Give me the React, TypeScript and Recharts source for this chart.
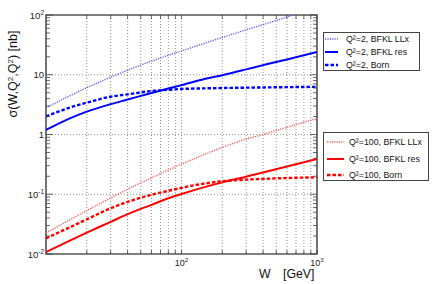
import { CartesianGrid, Line, LineChart, ReferenceArea, ReferenceLine, XAxis, YAxis } from 'recharts';

// W in GeV
const wValues = [10, 15, 20, 30, 40, 60, 80, 100, 150, 200, 300, 400, 600, 1000];

// sigma in nb
const q2LLx = [2.8, 4.45, 6.05, 9.1, 11.9, 16.9, 21.2, 25, 34, 42, 56.6, 69, 93, 136];
const q2Res = [1.19, 1.86, 2.41, 3.22, 3.85, 4.96, 5.9, 6.7, 8.55, 9.84, 12.3, 14.5, 18.0, 24.0];
const q2Born = [2.0, 2.82, 3.41, 4.29, 4.7, 5.34, 5.6, 5.78, 5.92, 6.0, 6.08, 6.13, 6.2, 6.28];
const q100LLx = [0.0225, 0.0372, 0.0532, 0.0867, 0.1213, 0.189, 0.255, 0.319, 0.47, 0.607, 0.839, 1.0, 1.32, 1.86];
const q100Res = [0.0108, 0.0168, 0.0228, 0.0345, 0.0465, 0.0665, 0.0855, 0.101, 0.133, 0.158, 0.197, 0.231, 0.292, 0.39];
const q100Born = [0.0183, 0.028, 0.038, 0.0582, 0.0745, 0.098, 0.114, 0.128, 0.152, 0.165, 0.176, 0.181, 0.187, 0.192];

const xTicks = [20, 30, 40, 50, 60, 70, 80, 90, 100, 200, 300, 400, 500, 600, 700, 800, 900, 1000];
const yTicks = [0.01, 0.1, 1, 10, 100].flatMap(d => (d === 100 ? [100] : [1, 2, 3, 4, 5, 6, 7, 8, 9].map(k => +(k * d).toPrecision(2))));
const xLabels: Record<number, string> = { 100: '2', 1000: '3' };
const yLabels: Record<number, [string, string]> = { 0.01: ['10', '-2'], 0.1: ['10', '-1'], 1: ['1', ''], 10: ['10', ''], 100: ['10', '2'] };
const gridY = [0.1, 1, 10];

const data = wValues.map((w, i) => ({
    w,
    q2LLx: q2LLx[i],
    q2Res: q2Res[i],
    q2Born: q2Born[i],
    q100LLx: q100LLx[i],
    q100Res: q100Res[i],
    q100Born: q100Born[i],
}));

const PLOT_LEFT = 46;
const PLOT_RIGHT = 317;
const PLOT_TOP = 15;
const PLOT_BOTTOM = 254;
const FONT = '"Liberation Sans", Arial, sans-serif';

const series = [
    { key: 'q2LLx', color: '#5b5bff', width: 1.4, dash: '1.2 1.2', label: 'Q²=2, BFKL LLx' },
    { key: 'q2Res', color: '#0000ff', width: 2, dash: undefined, label: 'Q²=2, BFKL res' },
    { key: 'q2Born', color: '#0000ff', width: 2.4, dash: '3.5 2', label: 'Q²=2, Born' },
    { key: 'q100LLx', color: '#ff5b5b', width: 1.4, dash: '1.2 1.2', label: 'Q²=100, BFKL LLx' },
    { key: 'q100Res', color: '#ff0000', width: 2, dash: undefined, label: 'Q²=100, BFKL res' },
    { key: 'q100Born', color: '#ff0000', width: 2.4, dash: '3.5 2', label: 'Q²=100, Born' },
];

const XTick = (props: any) => {
    const { x, payload } = props;
    const sup = xLabels[payload.value];
    return (
        <g>
            <line x1={x} x2={x} y1={PLOT_BOTTOM} y2={PLOT_BOTTOM - 4} stroke="#444" strokeWidth={0.8} />
            <line x1={x} x2={x} y1={PLOT_TOP} y2={PLOT_TOP + 4} stroke="#444" strokeWidth={0.8} />
            {sup && (
                <text x={x} y={266} textAnchor="middle" fontSize={9} fontFamily={FONT} fill="#222">
                    <tspan>10</tspan>
                    <tspan dy={-4} fontSize={6.2}>{sup}</tspan>
                </text>
            )}
        </g>
    );
};

const YTick = (props: any) => {
    const { y, payload } = props;
    const lab = yLabels[payload.value];
    const len = lab ? 7 : 4;
    return (
        <g>
            <line x1={PLOT_LEFT} x2={PLOT_LEFT + len} y1={y} y2={y} stroke="#444" strokeWidth={0.8} />
            <line x1={PLOT_RIGHT - len} x2={PLOT_RIGHT} y1={y} y2={y} stroke="#444" strokeWidth={0.8} />
            {lab && (
                <text x={PLOT_LEFT - 2} y={y + 3.5} textAnchor="end" fontSize={9.5} fontFamily={FONT} fill="#222">
                    <tspan>{lab[0]}</tspan>
                    {lab[1] && <tspan dy={-4} fontSize={6.5}>{lab[1]}</tspan>}
                </text>
            )}
        </g>
    );
};

// lineX: [from, to] and textX, relative to the box's left edge
const LegendBox = ({ items, left, top, width, height, rows, lineX, textX }: any) => (
    <div style={{ position: 'absolute', left, top, width, height, background: '#fff', border: '1px solid #444', boxSizing: 'border-box', fontFamily: FONT, fontSize: 8.8, color: '#111' }}>
        {items.map((s: any, i: number) => (
            <div key={s.key} style={{ position: 'absolute', left: 0, top: rows[i] - top - 6, height: 12, width: '100%' }}>
                <svg width={lineX[1] + 2} height={12} style={{ position: 'absolute', left: -1, top: 0 }}>
                    <line x1={lineX[0]} x2={lineX[1]} y1={6} y2={6} stroke={s.color} strokeWidth={s.width} strokeDasharray={s.dash} />
                </svg>
                <span style={{ position: 'absolute', left: textX - 1, top: 0, lineHeight: '12px', whiteSpace: 'nowrap' }}>{s.label}</span>
            </div>
        ))}
    </div>
);

export default function App() {
    return (
        <div style={{ position: 'absolute', left: 0, top: 0, width: 432, height: 284, background: '#fff' }}>
            <LineChart width={432} height={284} data={data} margin={{ top: PLOT_TOP, right: 432 - PLOT_RIGHT, left: 0, bottom: 0 }}>
                <CartesianGrid horizontal={false} stroke="#777" strokeDasharray="1 2" strokeWidth={0.8} />
                {gridY.map(v => (
                    <ReferenceLine key={v} y={v} stroke="#777" strokeDasharray="1 2" strokeWidth={0.8} />
                ))}
                <XAxis dataKey="w" type="number" scale="log" domain={[10, 1000]} ticks={xTicks} interval={0}
                    allowDataOverflow tick={<XTick />} tickLine={false} axisLine={false} height={284 - PLOT_BOTTOM} />
                <YAxis type="number" scale="log" domain={[0.01, 100]} ticks={yTicks} interval={0}
                    allowDataOverflow tick={<YTick />} tickLine={false} axisLine={false} width={PLOT_LEFT} />
                {series.map(s => (
                    <Line key={s.key} dataKey={s.key} type="monotone" stroke={s.color} strokeWidth={s.width}
                        strokeDasharray={s.dash} dot={false} isAnimationActive={false} />
                ))}
                <ReferenceArea x1={10} x2={1000} y1={0.01} y2={100} fill="none" stroke="#555" strokeWidth={1.6} />
            </LineChart>

            <LegendBox items={series.slice(0, 3)} left={323} top={32} width={97} height={39}
                rows={[38.3, 51, 64]} lineX={[2, 15]} textX={23} />
            <LegendBox items={series.slice(3)} left={323} top={132} width={106} height={49}
                rows={[141, 157.7, 174]} lineX={[4, 21]} textX={26} />

            <svg width={432} height={284} style={{ position: 'absolute', left: 0, top: 0, pointerEvents: 'none' }}>
                <text transform="translate(17,74) rotate(-90)" textAnchor="middle" fontSize={12.5} fontFamily={FONT} fill="#111">
                    <tspan>σ(W,Q</tspan>
                    <tspan dy={-4} fontSize={8}>2</tspan>
                    <tspan dy={4}>,Q</tspan>
                    <tspan dy={-4} fontSize={8}>2</tspan>
                    <tspan dy={4}>)  [nb]</tspan>
                </text>
                <text x={259} y={278} fontSize={12.3} fontFamily={FONT} fill="#111">W</text>
                <text x={283} y={278} fontSize={12.3} fontFamily={FONT} fill="#111">[GeV]</text>
            </svg>
        </div>
    );
}
